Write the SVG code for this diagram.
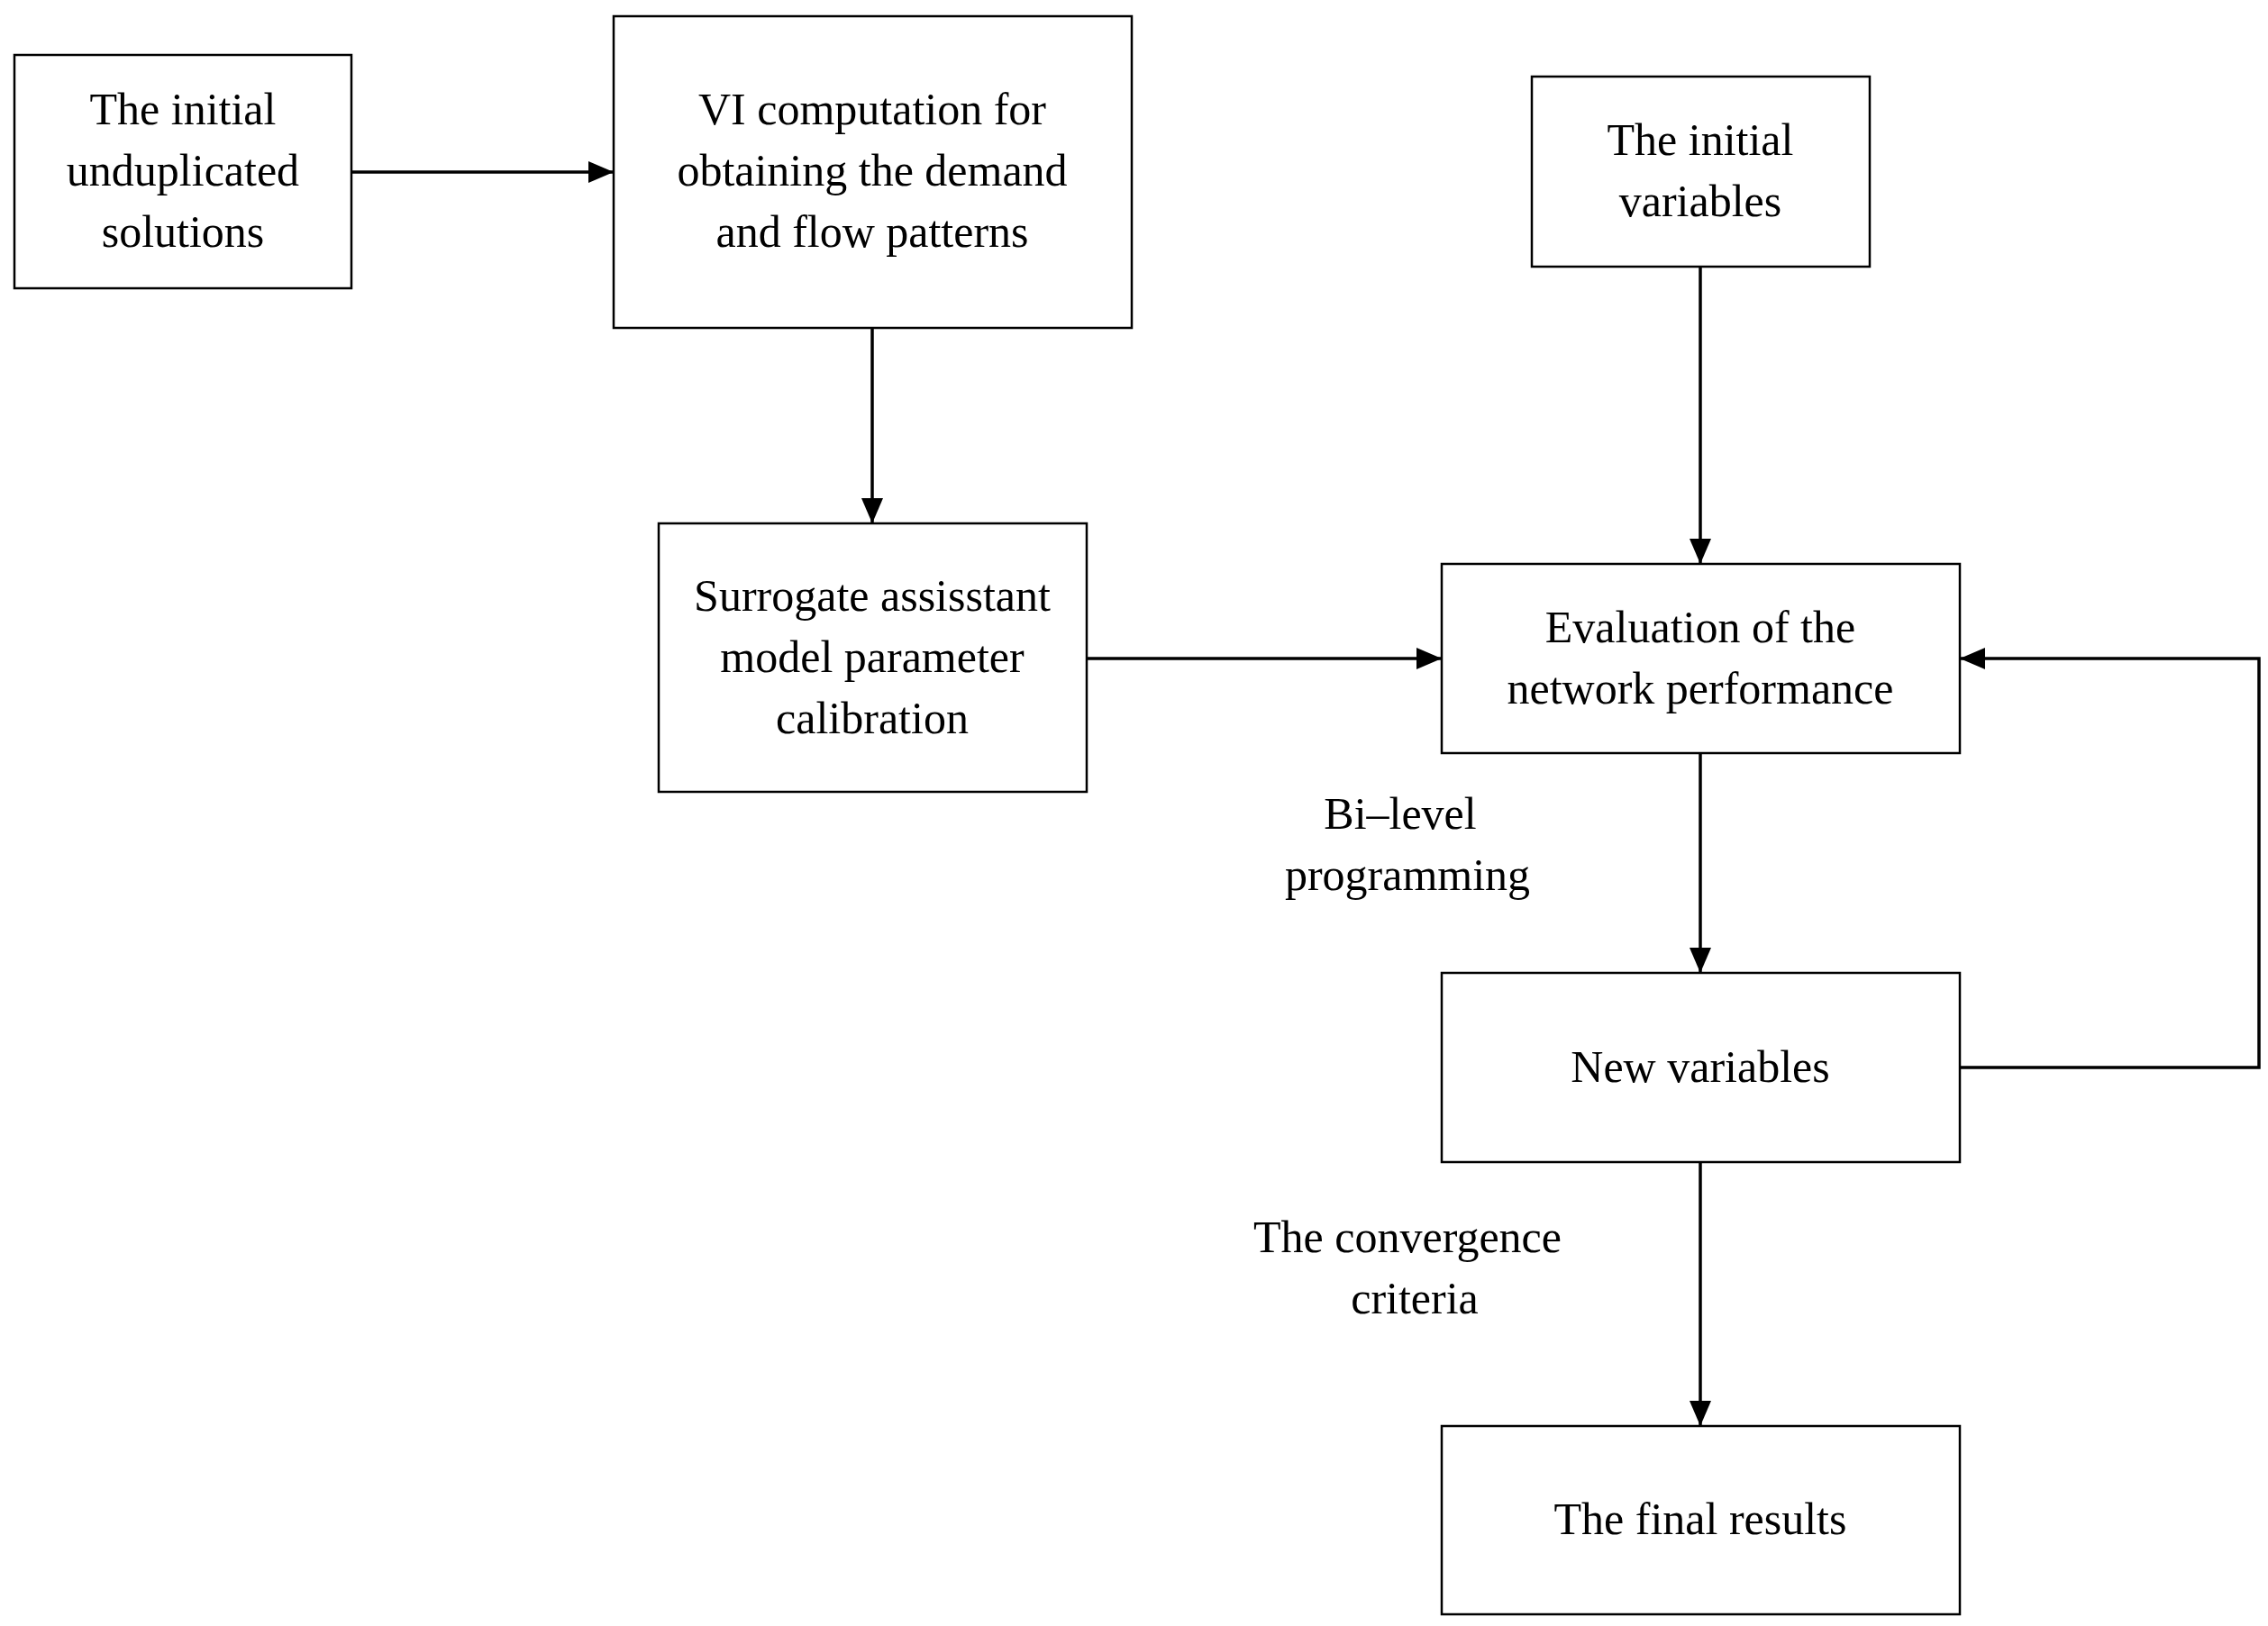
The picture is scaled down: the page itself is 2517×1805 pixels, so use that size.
<svg xmlns="http://www.w3.org/2000/svg" width="2517" height="1805" viewBox="0 0 2517 1805">
<style>
rect{fill:#fff;stroke:#000;stroke-width:2.5}
text{font-family:"Liberation Serif",serif;font-size:50px;text-anchor:middle;fill:#000}
.c{stroke:#000;stroke-width:3.5;fill:none}
</style>
<defs><marker id="a" markerWidth="10" markerHeight="10" refX="9" refY="5" orient="auto" markerUnits="userSpaceOnUse" viewBox="0 0 10 10"><path d="M0,0L10,5L0,10z"/></marker>
<marker id="b" markerWidth="28" markerHeight="24" refX="28" refY="12" orient="auto" markerUnits="userSpaceOnUse"><path d="M0,0L28,12L0,24z"/></marker></defs>
<rect width="2517" height="1805" style="fill:#fff;stroke:none"/>
<g id="connectors">
<path class="c" d="M390,191H681" marker-end="url(#b)"/>
<path class="c" d="M968,364V581" marker-end="url(#b)"/>
<path class="c" d="M1887,296V626" marker-end="url(#b)"/>
<path class="c" d="M1206,731H1600" marker-end="url(#b)"/>
<path class="c" d="M1887,836V1080" marker-end="url(#b)"/>
<path class="c" d="M1887,1290V1583" marker-end="url(#b)"/>
<path class="c" d="M2175,1185H2507V731H2175" marker-end="url(#b)"/>
<text x="1554" y="920">Bi–level</text>
<text x="1562" y="988">programming</text>
<text x="1562" y="1390">The convergence</text>
<text x="1570" y="1458">criteria</text>
</g>
<g id="n1"><rect x="16" y="61" width="374" height="259"/><text x="203" y="138">The initial</text><text x="203" y="206">unduplicated</text><text x="203" y="274">solutions</text></g>
<g id="n2"><rect x="681" y="18" width="575" height="346"/><text x="968" y="138">VI computation for</text><text x="968" y="206">obtaining the demand</text><text x="968" y="274">and flow patterns</text></g>
<g id="n3"><rect x="1700" y="85" width="375" height="211"/><text x="1887" y="172">The initial</text><text x="1887" y="240">variables</text></g>
<g id="n4"><rect x="731" y="581" width="475" height="298"/><text x="968" y="678">Surrogate assisstant</text><text x="968" y="746">model parameter</text><text x="968" y="814">calibration</text></g>
<g id="n5"><rect x="1600" y="626" width="575" height="210"/><text x="1887" y="713">Evaluation of the</text><text x="1887" y="781">network performance</text></g>
<g id="n6"><rect x="1600" y="1080" width="575" height="210"/><text x="1887" y="1201">New variables</text></g>
<g id="n7"><rect x="1600" y="1583" width="575" height="209"/><text x="1887" y="1703">The final results</text></g>
</svg>
